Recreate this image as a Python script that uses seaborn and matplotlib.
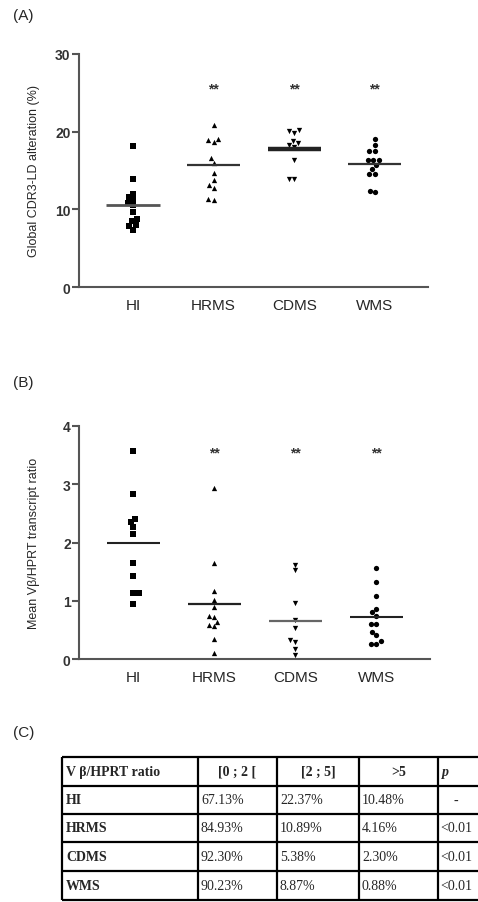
import numpy as np
import pandas as pd
import matplotlib
matplotlib.use("Agg")
import matplotlib.pyplot as plt
import seaborn as sns

# ---------------- data ----------------
groups = ["HI", "HRMS", "CDMS", "WMS"]
markers = ["s", "^", "v", "o"]

# (A) Global CDR3-LD alteration (%)
cdr3_hi = [18.2, 13.9, 12.0, 11.6, 11.2, 10.8, 10.5, 9.7, 8.8, 8.5, 8.0, 7.8, 7.4]
cdr3_hrms = [20.8, 19.1, 18.9, 18.7, 16.6, 16.0, 14.7, 13.8, 13.1, 12.8, 11.3, 11.2]
cdr3_cdms = [20.2, 20.1, 19.8, 18.8, 18.5, 18.3, 18.0, 16.3, 13.9, 13.9]
cdr3_wms = [19.1, 18.3, 17.5, 17.5, 16.3, 16.3, 16.3, 15.7, 15.2, 14.6, 14.6, 12.4, 12.2]
mean_a = [10.6, 15.7, 17.8, 15.9]

# (B) Mean Vbeta/HPRT transcript ratio
ratio_hi = [3.57, 2.83, 2.40, 2.35, 2.27, 2.14, 1.65, 1.42, 1.13, 1.13, 0.95]
ratio_hrms = [2.93, 1.64, 1.17, 1.02, 0.89, 0.74, 0.72, 0.64, 0.59, 0.56, 0.34, 0.11]
ratio_cdms = [1.62, 1.53, 0.96, 0.67, 0.53, 0.33, 0.29, 0.18, 0.07]
ratio_wms = [1.56, 1.33, 1.09, 0.86, 0.80, 0.74, 0.60, 0.60, 0.46, 0.41, 0.31, 0.26, 0.26]
mean_b = [2.0, 0.95, 0.66, 0.72]

sig_groups = ["HRMS", "CDMS", "WMS"]
sig_a = 25.5
sig_b = 3.54

yticks_a = [0, 10, 20, 30]
yticks_b = [0, 1, 2, 3, 4]

# (C) table
table_header = ["V β/HPRT ratio", "[0 ; 2 [", "[2 ; 5]", ">5", "p"]
table_rows = ["HI", "HRMS", "CDMS", "WMS"]
col_02 = ["67.13%", "84.93%", "92.30%", "90.23%"]
col_25 = ["22.37%", "10.89%", "5.38%", "8.87%"]
col_5 = ["10.48%", "4.16%", "2.30%", "0.88%"]
col_p = ["-", "<0.01", "<0.01", "<0.01"]

# ---------------- frames ----------------
df_a = pd.DataFrame({
    "group": sum([[g] * len(v) for g, v in zip(groups, [cdr3_hi, cdr3_hrms, cdr3_cdms, cdr3_wms])], []),
    "value": cdr3_hi + cdr3_hrms + cdr3_cdms + cdr3_wms,
})
df_b = pd.DataFrame({
    "group": sum([[g] * len(v) for g, v in zip(groups, [ratio_hi, ratio_hrms, ratio_cdms, ratio_wms])], []),
    "value": ratio_hi + ratio_hrms + ratio_cdms + ratio_wms,
})

sns.set_style("ticks")
plt.rcParams["font.family"] = ["Liberation Sans", "DejaVu Sans"]

W, H = 478, 903
fig = plt.figure(figsize=(W / 100, H / 100), dpi=100)

axA = fig.add_axes([79 / W, 1 - 288 / H, (428 - 79) / W, (288 - 55) / H])
axB = fig.add_axes([79 / W, 1 - 660 / H, (430 - 79) / W, (660 - 427) / H])

spine_col = "#555555"


def panel(ax, df, means, sig_y, ylim, yticks, ylabel, line_w, line_c):
    for g, m in zip(groups, markers):
        sns.swarmplot(data=df[df["group"] == g], x="group", y="value", order=groups,
                      marker=m, color="black", size=3.8, ax=ax, linewidth=0)
    idx = np.arange(len(groups))
    for i in idx:
        ax.hlines(means[i], i - 0.33, i + 0.33, color=line_c[i], lw=line_w[i], zorder=3)
    for g in sig_groups:
        ax.text(groups.index(g), sig_y, "**", ha="center", va="center",
                fontsize=10, fontweight="bold", color="#333333")
    ax.set_xlim(-0.67, 3.66)
    ax.set_ylim(*ylim)
    ax.set_yticks(yticks)
    ax.set_xlabel("")
    ax.set_ylabel(ylabel, fontsize=9)
    ax.yaxis.set_label_coords(-0.112, 0.5)
    for s in ["top", "right"]:
        ax.spines[s].set_visible(False)
    for s in ["left", "bottom"]:
        ax.spines[s].set_color(spine_col)
        ax.spines[s].set_linewidth(1.5)
    ax.tick_params(axis="y", length=5, width=1.5, color=spine_col, labelsize=10, pad=1)
    ax.tick_params(axis="x", length=0, labelsize=11, pad=8)
    for lab in ax.get_yticklabels():
        lab.set_fontweight("bold")
        lab.set_color("#333333")


panel(axA, df_a, mean_a, sig_a, (0, 30), yticks_a, "Global CDR3-LD alteration (%)",
      [2.0, 1.6, 3.2, 1.6], ["#555555", "#333333", "#222222", "#333333"])
panel(axB, df_b, mean_b, sig_b, (0, 4), yticks_b, "Mean Vβ/HPRT transcript ratio",
      [1.5, 1.6, 1.6, 1.5], ["#222222", "#222222", "#666666", "#222222"])

fig.text(13 / W, 1 - 16 / H, "(A)", fontsize=11, va="center", ha="left")
fig.text(13 / W, 1 - 383 / H, "(B)", fontsize=11, va="center", ha="left")
fig.text(13 / W, 1 - 733 / H, "(C)", fontsize=11, va="center", ha="left")

# ---------------- table (C) ----------------
axT = fig.add_axes([0, 0, 1, 1])
axT.set_xlim(0, W)
axT.set_ylim(H, 0)
axT.axis("off")

col_x = [62, 198, 277, 359, 438, 482]
row_y = [758, 787, 815, 843, 872, 901]
for x in col_x:
    axT.vlines(x, row_y[0], row_y[-1], color="black", lw=1.6)
for y in row_y:
    axT.hlines(y, col_x[0], col_x[-1], color="black", lw=1.6)

serif = ["Liberation Serif", "DejaVu Serif"]
fs = 10
ymid = [(row_y[i] + row_y[i + 1]) / 2 for i in range(len(row_y) - 1)]
# header
axT.text(col_x[0] + 4, ymid[0], table_header[0], ha="left", va="center",
         fontsize=fs, fontweight="bold", family=serif)
for j in range(1, 4):
    axT.text((col_x[j] + col_x[j + 1]) / 2, ymid[0], table_header[j], ha="center",
             va="center", fontsize=fs, fontweight="bold", family=serif)
axT.text(col_x[4] + 4, ymid[0], table_header[4], ha="left", va="center",
         fontsize=fs, fontweight="bold", fontstyle="italic", family=serif)
# body
for i, name in enumerate(table_rows):
    yy = ymid[i + 1]
    axT.text(col_x[0] + 4, yy, name, ha="left", va="center", fontsize=fs,
             fontweight="bold", family=serif)
    for j, col in enumerate([col_02, col_25, col_5]):
        axT.text(col_x[j + 1] + 3, yy, col[i], ha="left", va="center",
                 fontsize=fs, family=serif)
    if col_p[i] == "-":
        axT.text((col_x[4] + col_x[5]) / 2 - 4, yy, col_p[i], ha="center", va="center",
                 fontsize=fs, family=serif)
    else:
        axT.text(col_x[4] + 2, yy, col_p[i], ha="left", va="center",
                 fontsize=fs, family=serif)

fig.savefig("out.png", dpi=100)
